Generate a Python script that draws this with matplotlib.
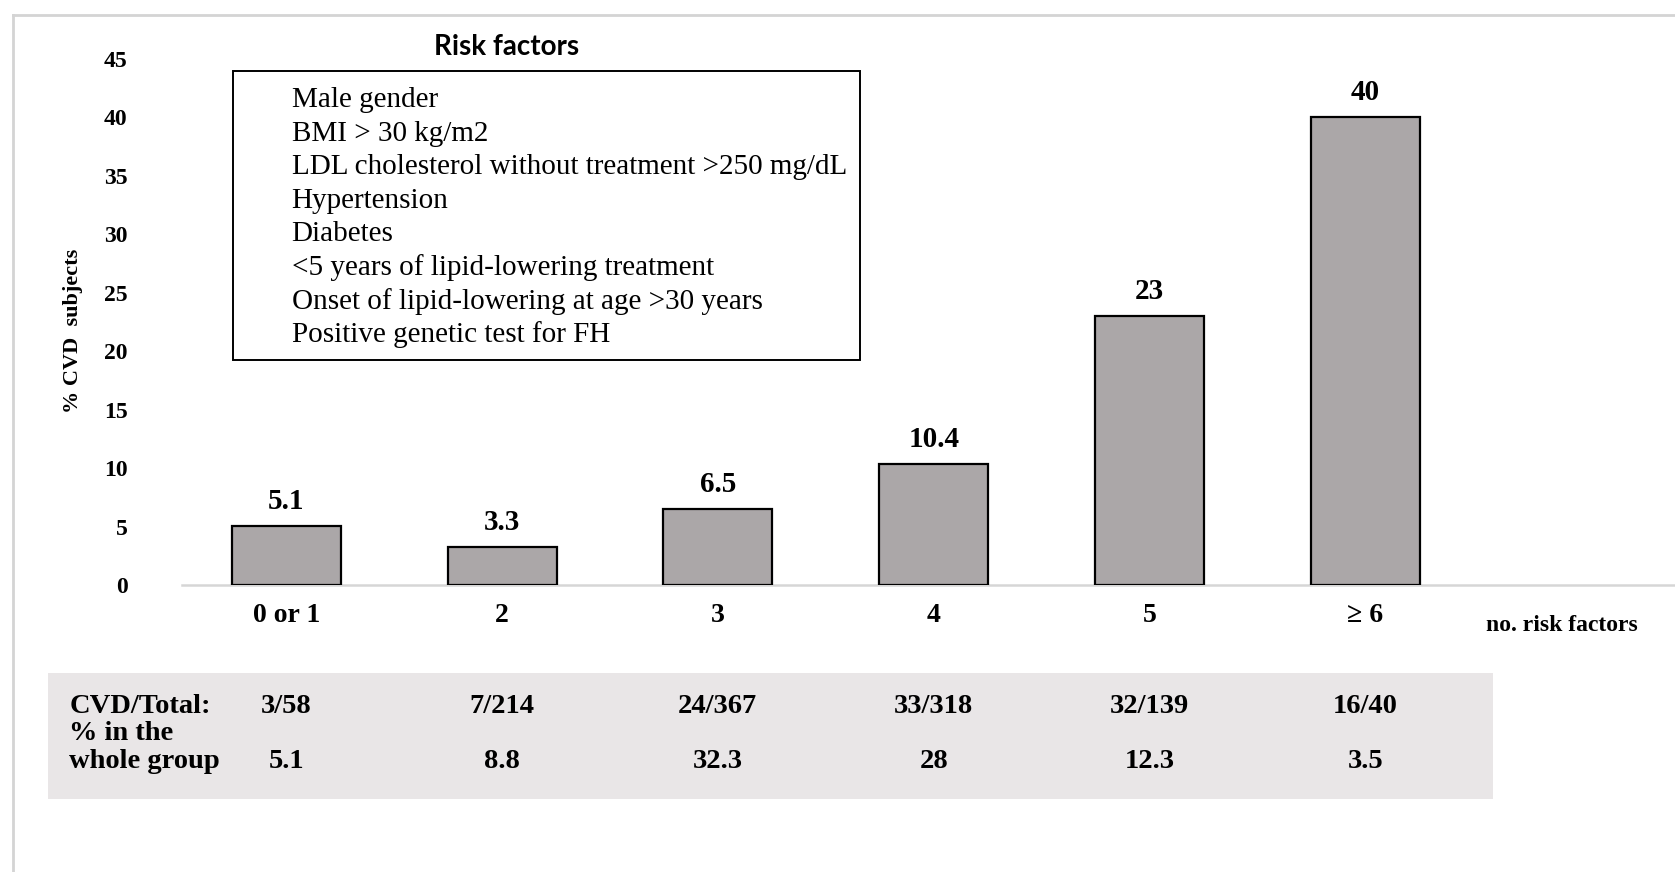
import matplotlib
matplotlib.use("Agg")
import matplotlib.pyplot as plt
import matplotlib.transforms as mtransforms
from matplotlib.patches import Rectangle

# data
categories = ["0 or 1", "2", "3", "4", "5", "\u2265 6"]
pct_cvd = [5.1, 3.3, 6.5, 10.4, 23, 40]
cvd_total = ["3/58", "7/214", "24/367", "33/318", "32/139", "16/40"]
pct_group = ["5.1", "8.8", "32.3", "28", "12.3", "3.5"]
risk_factors = [
    "Male gender",
    "BMI > 30 kg/m2",
    "LDL cholesterol without treatment >250 mg/dL",
    "Hypertension",
    "Diabetes",
    "<5 years of lipid-lowering treatment",
    "Onset of lipid-lowering at age >30 years",
    "Positive genetic test for FH",
]
yticks = [0, 5, 10, 15, 20, 25, 30, 35, 40, 45]

W, H = 1675, 872
S = 1675 / 1568  # layout measured on a 1568 px wide view
serif = "Liberation Serif"

fig = plt.figure(figsize=(W / 100, H / 100), dpi=100)
fig.patch.set_facecolor("white")

def fx(px):
    return px * S / W

def fy(py):
    return 1 - py * S / H

# axes: baseline at y=548, 45 at y=55, starts at x=170
ax = fig.add_axes([fx(170), fy(548), 1 - fx(170), fy(55) - fy(548)])
x = list(range(len(categories)))
ax.bar(x, pct_cvd, width=0.505, color="#aba7a8", edgecolor="black", linewidth=1.6, zorder=3)
ax.set_xlim(-0.485, (W / S - 268) / 202)
ax.set_ylim(0, 45)

for s in ["top", "right", "left"]:
    ax.spines[s].set_visible(False)
ax.spines["bottom"].set_color("#d6d6d6")
ax.spines["bottom"].set_linewidth(1.8)
ax.tick_params(length=0)
ax.set_yticks(yticks)
ax.set_yticklabels([str(v) for v in yticks], fontfamily=serif, fontweight="bold", fontsize=17)
ax.tick_params(axis="y", pad=39)
ax.set_xticks(x)
ax.set_xticklabels(categories, fontfamily=serif, fontweight="bold", fontsize=20)
ax.tick_params(axis="x", pad=13)

for xi, v in zip(x, pct_cvd):
    ax.annotate(f"{v:g}", (xi, v), xytext=(0, 8), textcoords="offset points",
                ha="center", va="bottom", fontfamily=serif, fontweight="bold", fontsize=21)

fig.text(fx(68), fy(310), "% CVD  subjects", rotation=90, ha="center", va="center",
         fontfamily=serif, fontweight="bold", fontsize=16)
fig.text(fx(1462), fy(586), "no. risk factors", ha="center", va="center",
         fontfamily=serif, fontweight="bold", fontsize=17)

# risk factor box
fig.text(fx(474), fy(44), "Risk factors", ha="center", va="center",
         fontfamily="Lato", fontweight="bold", fontsize=20)
fig.patches.append(Rectangle((fx(218), fy(337)), fx(805) - fx(218), fy(66) - fy(337),
                             transform=fig.transFigure, fill=False, edgecolor="black",
                             linewidth=1.4))
for i, line in enumerate(risk_factors):
    fig.text(fx(273), fy(94 + i * 31.3), line, ha="left", va="center",
             fontfamily=serif, fontsize=21)

# table band under the chart
band = Rectangle((fx(45), fy(748)), fx(1398) - fx(45), fy(630) - fy(748),
                 transform=fig.transFigure, facecolor="#e9e6e7", edgecolor="none", zorder=-5)
fig.add_artist(band)
fig.text(fx(65), fy(661), "CVD/Total:", ha="left", va="center",
         fontfamily=serif, fontweight="bold", fontsize=20.5)
fig.text(fx(65), fy(687), "% in the", ha="left", va="center",
         fontfamily=serif, fontweight="bold", fontsize=20.5)
fig.text(fx(65), fy(713), "whole group", ha="left", va="center",
         fontfamily=serif, fontweight="bold", fontsize=20.5)
tr = mtransforms.blended_transform_factory(ax.transData, fig.transFigure)
for xi, a, b in zip(x, cvd_total, pct_group):
    fig.text(xi, fy(661), a, transform=tr, ha="center", va="center",
             fontfamily=serif, fontweight="bold", fontsize=20.5)
    fig.text(xi, fy(713), b, transform=tr, ha="center", va="center",
             fontfamily=serif, fontweight="bold", fontsize=20.5)

# light frame lines at left and top
fig.add_artist(plt.Line2D([fx(12), fx(12)], [fy(14), 0], transform=fig.transFigure,
                          color="#d4d4d4", linewidth=2))
fig.add_artist(plt.Line2D([fx(12), 1], [fy(14), fy(14)], transform=fig.transFigure,
                          color="#d4d4d4", linewidth=2))

fig.savefig("out.png", dpi=100)
